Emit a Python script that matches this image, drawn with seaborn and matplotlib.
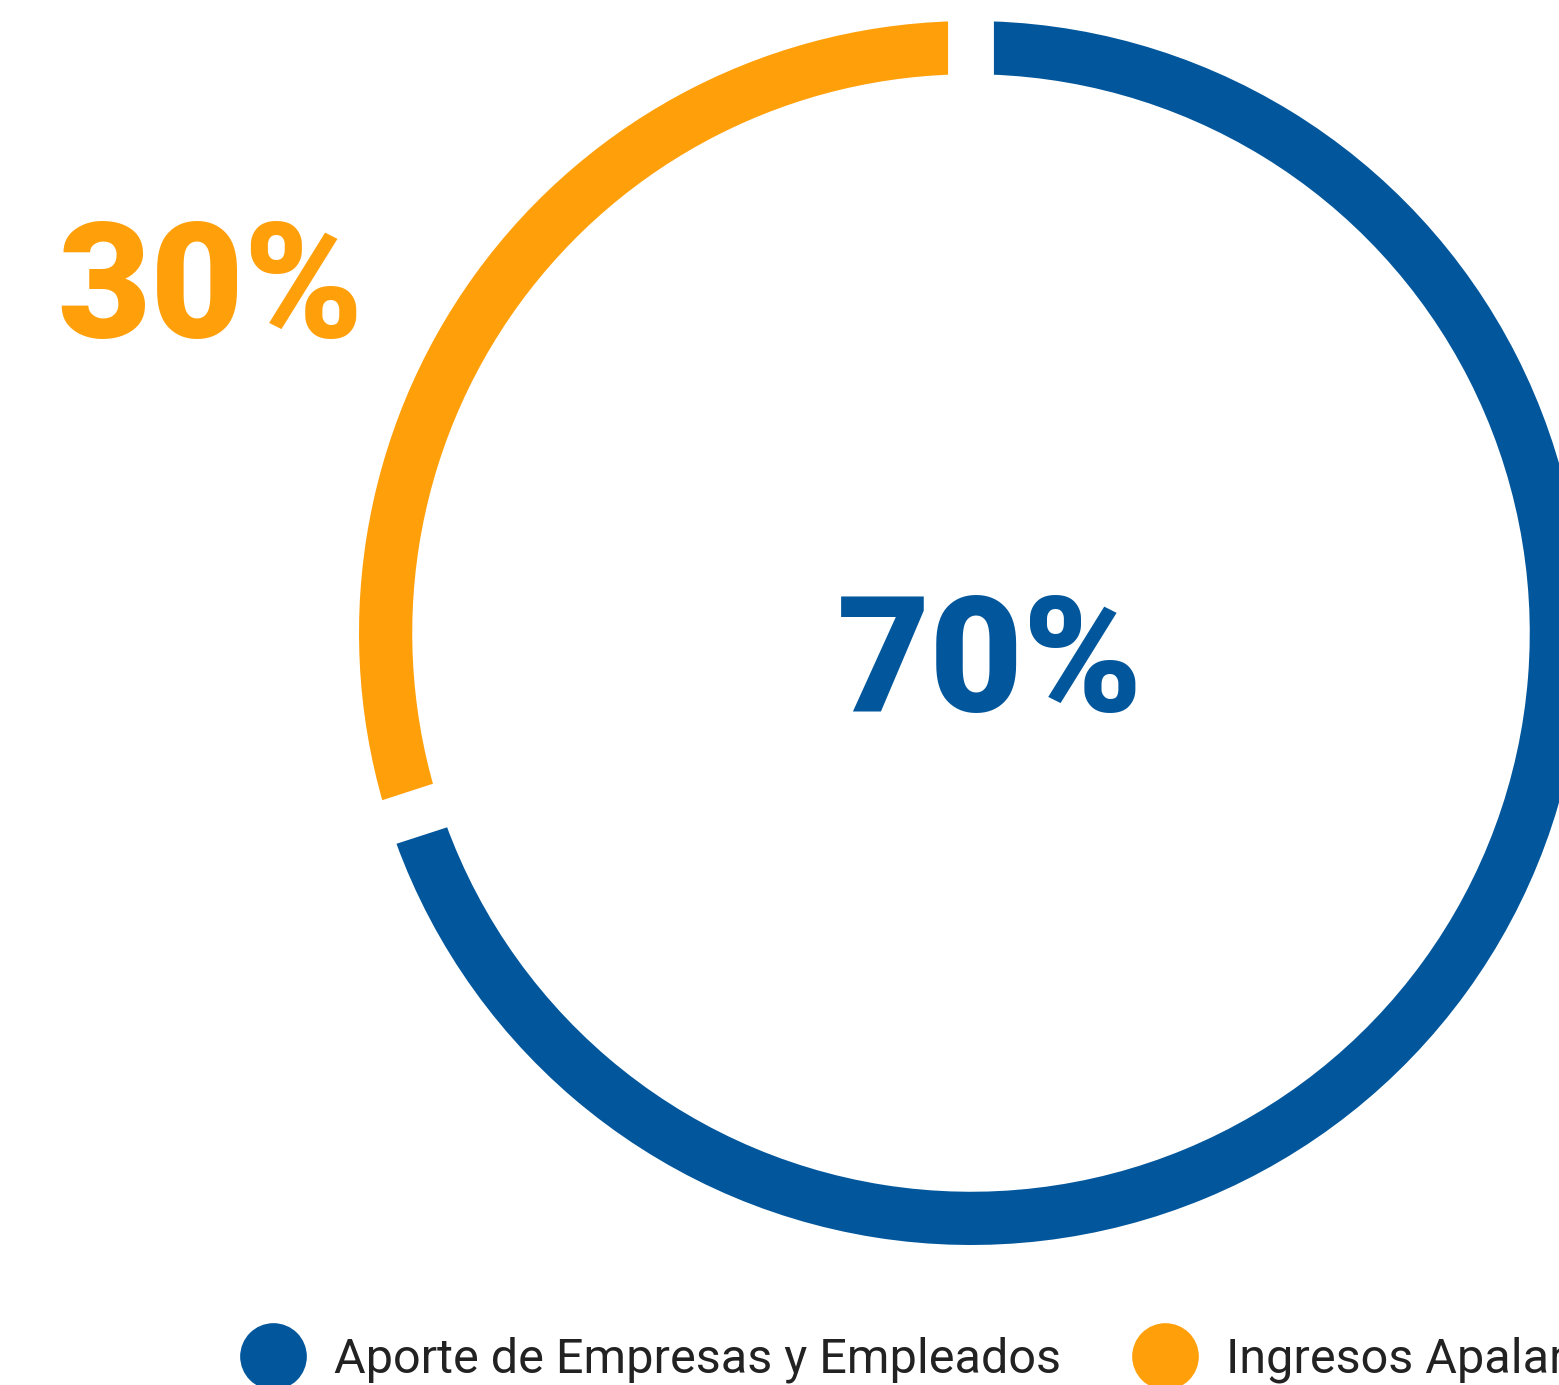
import matplotlib
matplotlib.use("Agg")
import matplotlib.pyplot as plt
from matplotlib.lines import Line2D
import numpy as np
import seaborn as sns

# data
labels = ["Aporte de Empresas y Empleados", "Ingresos Apalancados"]
values = [70, 30]
pct_labels = ["70%", "30%"]
colors = ["#02579C", "#FFA00B"]

sns.set_style("white")
plt.rcParams['font.family'] = ['Roboto', 'DejaVu Sans']

W, H = 1559, 1385
cx, cy, R = 971, 633, 612   # pie centre / radius in pixels

fig = plt.figure(figsize=(W / 100, H / 100), dpi=100)
ax = fig.add_axes([0, 0, 1, 1])

wedges, _ = ax.pie(values, colors=colors, startangle=90, counterclock=False,
                   radius=1.0, wedgeprops=dict(width=0.087, linewidth=0))

# white gaps between the slices
ang = 90
for v in values:
    a = np.deg2rad(ang)
    ax.plot([0, 1.1 * np.cos(a)], [0, 1.1 * np.sin(a)], color='white', lw=33,
            solid_capstyle='butt', zorder=5)
    ang -= v / sum(values) * 360

ax.set_xlim(-cx / R, (W - cx) / R)
ax.set_ylim(-(H - cy) / R, cy / R)
ax.set_aspect('auto')
ax.axis('off')

# percentage labels
ax.text(0.031, -0.055, pct_labels[0], color=colors[0], fontsize=116,
        fontweight='black', ha='center', va='center', zorder=6)
ax.text(-1.242, 0.556, pct_labels[1], color=colors[1], fontsize=116,
        fontweight='black', ha='center', va='center', zorder=6)

handles = [Line2D([], [], marker='o', ls='', markersize=47, color=c) for c in colors]
fig.legend(handles, labels, loc='center left', bbox_to_anchor=(0.116, 0.018),
           ncol=2, frameon=False, fontsize=35, handletextpad=0.25,
           columnspacing=1.15, labelcolor='#222222')

fig.savefig('out.png', dpi=100)
